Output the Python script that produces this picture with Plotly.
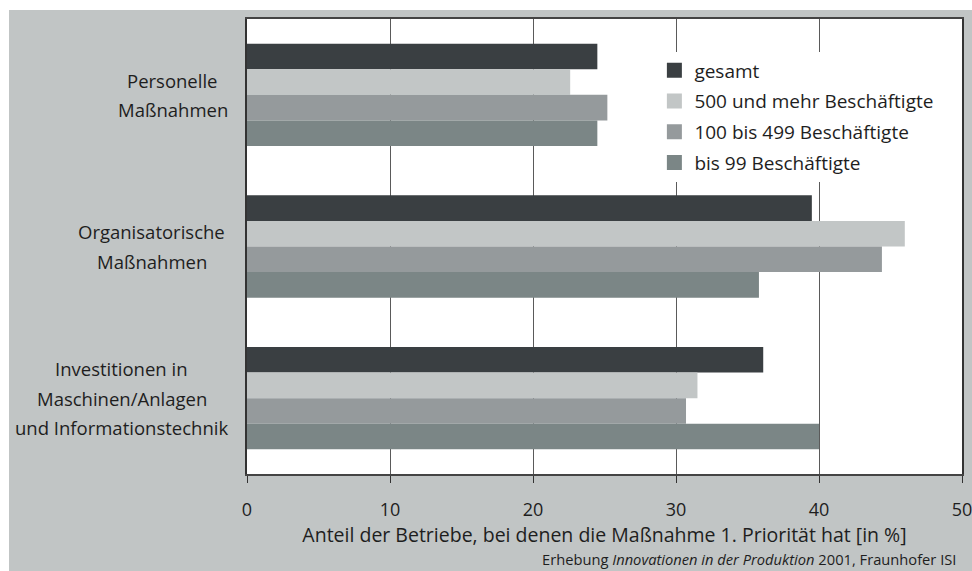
import plotly.graph_objects as go

# categories (top to bottom) and series values in %
categories = ['Personelle Maßnahmen',
              'Organisatorische Maßnahmen',
              'Investitionen in Maschinen/Anlagen und Informationstechnik']
category_lines = [['Personelle', 'Maßnahmen'],
                  ['Organisatorische', 'Maßnahmen'],
                  ['Investitionen in', 'Maschinen/Anlagen', 'und Informationstechnik']]
series_names = ['gesamt', '500 und mehr Beschäftigte',
                '100 bis 499 Beschäftigte', 'bis 99 Beschäftigte']
gesamt = [24.5, 39.5, 36.1]
gross = [22.6, 46.0, 31.5]
mittel = [25.2, 44.4, 30.7]
klein = [24.5, 35.8, 40.0]
x_ticks = [0, 10, 20, 30, 40, 50]

COLORS = ['#3a3f42', '#c2c6c6', '#959a9c', '#7b8686']
PANEL_GRAY = '#c1c5c5'
TEXT = '#1e1e1e'
FONT = 'Open Sans'

# page offset of the figure (white strip at top/left), figure fills the rest
OX, OY = 9, 10
FW, FH = 972 - OX, 571 - OY
L, R, T, B = 246.5 - OX, 10.3, 19 - OY, 571 - 474
W, H = FW - L - R, FH - T - B

fig = go.Figure()
for name, vals, col in zip(series_names, [gesamt, gross, mittel, klein], COLORS):
    fig.add_trace(go.Bar(
        x=vals, y=categories, orientation='h', name=name,
        marker=dict(color=col, line=dict(width=0)),
        showlegend=False,
    ))
    # legend proxies with a larger square swatch
    fig.add_trace(go.Scatter(
        x=[None], y=[None], mode='markers', name=name, legendgroup=name,
        marker=dict(symbol='square', size=15, color=col),
    ))

# category labels: each block of lines centred, set left of the axis
LINE_H = 29.5
LABEL_OFFSETS = [74.5, 95.5, 125.5]  # px from axis to block centre
for cat, lines, off in zip(categories, category_lines, LABEL_OFFSETS):
    n = len(lines)
    for i, line in enumerate(lines):
        fig.add_annotation(x=0, xref='paper', y=cat, yref='y', text=line,
                           xanchor='center', yanchor='middle',
                           xshift=-off, yshift=((n - 1) / 2 - i) * LINE_H,
                           showarrow=False,
                           font=dict(family=FONT, size=18.5, color=TEXT))

fig.add_annotation(
    x=(958 - OX - L) / W, xref='paper', y=-(559 - 474) / H, yref='paper',
    text='Erhebung <i>Innovationen in der Produktion</i> 2001, Fraunhofer ISI',
    xanchor='right', yanchor='middle', showarrow=False,
    font=dict(family=FONT, size=14.7, color=TEXT))

fig.update_layout(
    width=FW, height=FH, autosize=False,
    margin=dict(l=L, r=R, t=T, b=B, pad=0, autoexpand=False),
    paper_bgcolor=PANEL_GRAY, plot_bgcolor='white',
    barmode='group', bargap=0.325, bargroupgap=0,
    font=dict(family=FONT, size=18, color=TEXT),
    xaxis=dict(range=[0, 50], tickvals=x_ticks, ticks='outside', ticklen=7,
               tickcolor='#333', showgrid=True, gridcolor='#5a5a5a', gridwidth=1,
               showline=True, linecolor='#444', linewidth=1.5, mirror=True,
               zeroline=False, tickfont=dict(size=18), ticklabelstandoff=12,
               ticklabeloverflow='allow',
               title=dict(text='Anteil der Betriebe, bei denen die Maßnahme 1. Priorität hat [in %]',
                          standoff=8, font=dict(size=19.5))),
    yaxis=dict(autorange='reversed', showticklabels=False, ticks='',
               showline=True, linecolor='#333', linewidth=1.5, mirror=True,
               showgrid=False),
    legend=dict(x=(654 - OX - L) / W, y=1 - 32.5 / H, xanchor='left', yanchor='top',
                bgcolor='white', borderwidth=0, tracegroupgap=3,
                font=dict(size=19, color=TEXT), itemwidth=30),
)

fig.write_html('out.html', config={'responsive': False},
               post_script=f"document.body.style.margin='{OY}px 0 0 {OX}px';")
